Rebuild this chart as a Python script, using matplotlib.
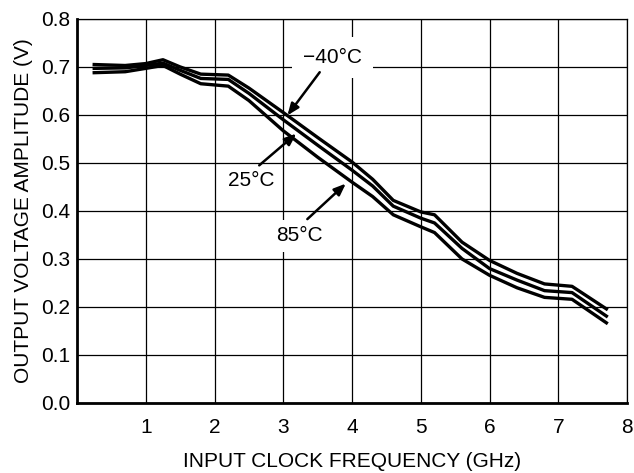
import numpy as np
import matplotlib
matplotlib.use("Agg")
import matplotlib.pyplot as plt

plt.rcParams['font.family'] = ['Liberation Sans', 'DejaVu Sans']

# frequency points (GHz) and output amplitude (V) for each temperature
freq = [0.25, 0.7, 1.0, 1.25, 1.5, 1.8, 2.2, 2.5, 3.0, 3.5, 4.0, 4.3, 4.6,
        5.0, 5.2, 5.6, 6.0, 6.4, 6.8, 7.2, 7.7]
amp_m40 = [0.705, 0.703, 0.707, 0.715, 0.700, 0.685, 0.683, 0.656, 0.605, 0.553,
           0.502, 0.466, 0.422, 0.398, 0.392, 0.335, 0.297, 0.270, 0.248, 0.243, 0.196]
amp_25 = [0.697, 0.698, 0.703, 0.708, 0.693, 0.676, 0.674, 0.645, 0.590, 0.537,
          0.485, 0.452, 0.410, 0.385, 0.375, 0.322, 0.280, 0.256, 0.234, 0.230, 0.181]
amp_85 = [0.688, 0.690, 0.697, 0.703, 0.685, 0.665, 0.660, 0.630, 0.567, 0.512,
          0.460, 0.430, 0.392, 0.367, 0.355, 0.300, 0.266, 0.240, 0.220, 0.216, 0.167]

x_ticks = [1, 2, 3, 4, 5, 6, 7, 8]
y_ticks = [0.0, 0.1, 0.2, 0.3, 0.4, 0.5, 0.6, 0.7, 0.8]

fs = 15

fig = plt.figure(figsize=(6.34, 4.73), dpi=100)
ax = fig.add_axes([0.1215, 0.148, 0.8675, 0.812])

for y in [amp_m40, amp_25, amp_85]:
    ax.plot(freq, y, color='black', lw=2.4, solid_joinstyle='round', zorder=3)

ax.set_xlim(0, 8)
ax.set_ylim(0, 0.8)
ax.set_xticks(x_ticks)
ax.set_yticks(y_ticks)
ax.set_yticklabels([f"{v:.1f}" for v in y_ticks])
ax.tick_params(length=0, labelsize=fs)
ax.tick_params(axis='x', pad=10.5)
ax.tick_params(axis='y', pad=5)
ax.grid(True, color='black', lw=0.9)
ax.set_axisbelow(True)
for s in ['top', 'right']:
    ax.spines[s].set_linewidth(0.9)
for s in ['left', 'bottom']:
    ax.spines[s].set_linewidth(2)

ax.set_xlabel('INPUT CLOCK FREQUENCY (GHz)', fontsize=fs, labelpad=11)
ax.set_ylabel('OUTPUT VOLTAGE AMPLITUDE (V)', fontsize=fs, labelpad=6)

arrow = dict(arrowstyle='-|>,head_length=0.7,head_width=0.28', color='black', lw=1.8,
             shrinkA=0, shrinkB=0)

# labels with white boxes that cut the grid
ax.text(3.72, 0.72, '\u221240\u00b0C', ha='center', va='center', fontsize=fs, zorder=4,
        bbox=dict(facecolor='white', edgecolor='none', pad=8))
ax.text(2.54, 0.4626, '25\u00b0C', ha='center', va='center', fontsize=fs, zorder=4,
        bbox=dict(facecolor='white', edgecolor='none', pad=5))
ax.text(3.24, 0.348, '85\u00b0C', ha='center', va='center', fontsize=fs, zorder=4,
        bbox=dict(facecolor='white', edgecolor='none', pad=5))

ax.annotate('', xy=(3.06, 0.599), xytext=(3.53, 0.689), arrowprops=arrow, zorder=5)
ax.annotate('', xy=(3.19, 0.561), xytext=(2.65, 0.495), arrowprops=arrow, zorder=5)
ax.annotate('', xy=(3.91, 0.457), xytext=(3.35, 0.383), arrowprops=arrow, zorder=5)

fig.savefig('out.png', dpi=100)
